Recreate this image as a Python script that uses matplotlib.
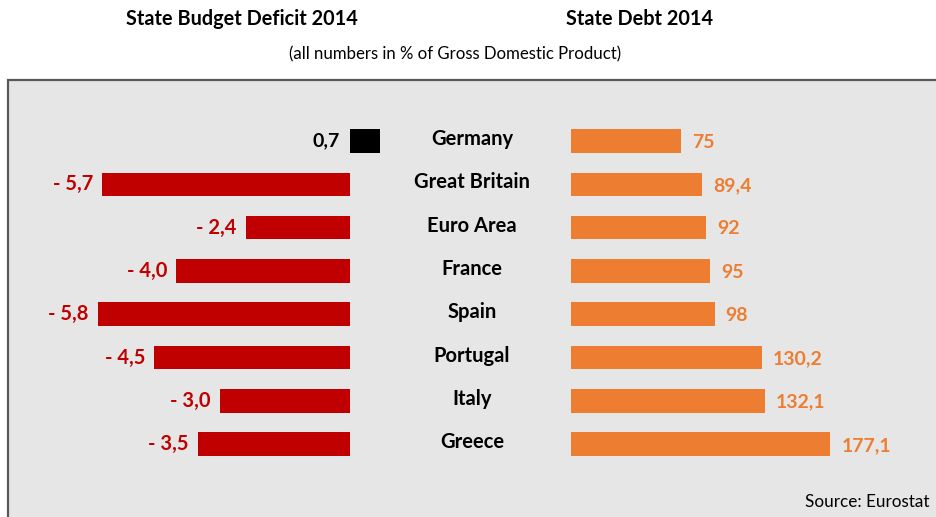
import matplotlib.pyplot as plt
import matplotlib.patches as patches

plt.rcParams['font.family'] = ['Lato', 'DejaVu Sans']

countries = ["Germany", "Great Britain", "Euro Area", "France", "Spain",
             "Portugal", "Italy", "Greece"]
deficit = [0.7, -5.7, -2.4, -4.0, -5.8, -4.5, -3.0, -3.5]
debt = [75, 89.4, 92, 95, 98, 130.2, 132.1, 177.1]

RED = "#c00000"
ORANGE = "#ed7d31"
PANEL = "#e7e6e6"

W, H = 937, 517
fig = plt.figure(figsize=(W / 100, H / 100), dpi=100)

# grey panel with a dark frame along the left and top
panel = patches.Rectangle((8 / W, -0.05), 1.1, (H - 80) / H + 0.05,
                          transform=fig.transFigure, facecolor=PANEL,
                          edgecolor="#595959", linewidth=1.6, zorder=-5)
fig.patches.append(panel)

def fmt(v):
    s = f"{abs(v):.1f}".replace(".", ",")
    return f"- {s}" if v < 0 else s

def fmt_debt(v):
    return f"{v:g}".replace(".", ",")

# rows: pixel y of first row centre and spacing
y0, dy = 141, 43.3
ax_top, ax_bot = 82, 517
ylim = ((ax_bot - y0) / dy, (ax_top - y0) / dy)
bar_h = 23.5 / dy

def make_ax(x_left, x_right):
    ax = fig.add_axes([x_left / W, 0, (x_right - x_left) / W, (H - ax_top) / H])
    ax.set_facecolor("none")
    ax.axis("off")
    ax.set_ylim(*ylim)
    ax.set_zorder(2)
    return ax

# left: budget deficit, zero at x=350 px, 43.5 px per point
axl = make_ax(20, 420)
px = 43.5
axl.set_xlim(-(350 - 20) / px, (420 - 350) / px)
rows = list(range(len(countries)))
colors = ["black" if v > 0 else RED for v in deficit]
axl.barh(rows, deficit, height=bar_h, color=colors)
for i, v in enumerate(deficit):
    if v > 0:
        axl.text(-10 / px, i, fmt(v), ha="right", va="center",
                 fontsize=14, fontweight="bold", color="black")
    else:
        axl.text(v - 9 / px, i, fmt(v), ha="right", va="center",
                 fontsize=14.5, fontweight="bold", color=RED)

# right: state debt, zero at x=571 px
axr = make_ax(571, W)
pr = 1.465
axr.set_xlim(0, (W - 571) / pr)
axr.barh(rows, debt, height=bar_h, color=ORANGE)
for i, v in enumerate(debt):
    axr.text(v + 11 / pr, i + 0.03, fmt_debt(v), ha="left", va="center",
             fontsize=14, fontweight="bold", color=ORANGE)

# country names between the two bar groups
for i, c in enumerate(countries):
    y = 1 - (y0 + dy * i - 2) / H
    fig.text(472 / W, y, c, ha="center", va="center",
             fontsize=14.5, fontweight="bold")

fig.text(242 / W, 1 - 19 / H, "State Budget Deficit 2014", ha="center",
         va="center", fontsize=14.3, fontweight="bold")
fig.text(640 / W, 1 - 19 / H, "State Debt 2014", ha="center",
         va="center", fontsize=14.3, fontweight="bold")
fig.text(455 / W, 1 - 54 / H, "(all numbers in % of Gross Domestic Product)",
         ha="center", va="center", fontsize=12.1)
fig.text(930 / W, 1 - 502 / H, "Source: Eurostat", ha="right",
         va="center", fontsize=12.3)

fig.savefig("out.png", dpi=100)
